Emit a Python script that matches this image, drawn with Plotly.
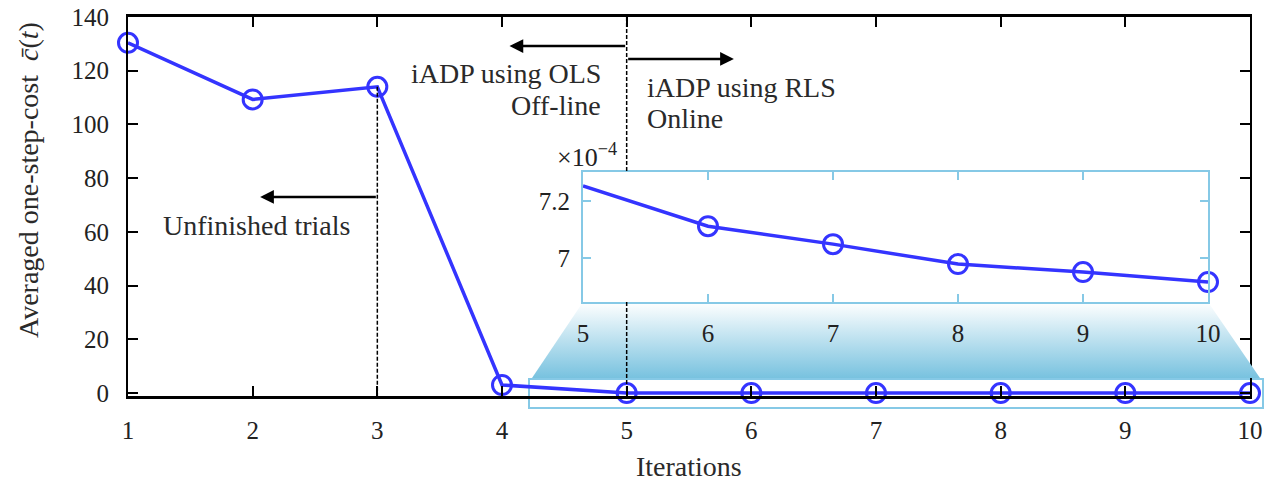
import plotly.graph_objects as go

# ---------------- data ----------------
iterations = [1, 2, 3, 4, 5, 6, 7, 8, 9, 10]
avg_cost = [130.4, 109.3, 114.0, 3.0, 7.253e-4, 7.112e-4, 7.049e-4, 6.979e-4, 6.951e-4, 6.916e-4]
x_ticks = [1, 2, 3, 4, 5, 6, 7, 8, 9, 10]
y_ticks = [0, 20, 40, 60, 80, 100, 120, 140]
inset_iters = iterations[4:]
inset_cost = avg_cost[4:]
inset_xticks = [5, 6, 7, 8, 9, 10]
inset_yticks = [7.0e-4, 7.2e-4]
inset_yticklabels = ["7", "7.2"]

# ---------------- layout geometry (pixels) ----------------
W, H = 1271, 482
PL, PR, PT, PB = 128, 1250, 17, 396          # main plot area
IL, IR, IT, IB = 583, 1208, 172, 302         # inset area
ZL, ZR, ZT, ZB = 529, 1263, 379, 408         # zoom rectangle

def px(x):
    return x / W

def py(y):
    return 1 - y / H

FONT = "Liberation Serif, Times New Roman, serif"
BLUE = "#3434ff"
SKY = "#86c9e6"
TXT = "#222222"

main_yrange = [-1.1, 140]
main_xrange = [1, 10]
inset_yrange = [6.846e-4, 7.302e-4]
inset_xrange = [5, 10]

main_xdom = [px(PL), px(PR)]
main_ydom = [py(PB), py(PT)]
inset_xdom = [px(IL), px(IR)]
inset_ydom = [py(IB), py(IT)]


def main_y_from_pixel(yp):
    p = py(yp)
    return main_yrange[0] + (p - main_ydom[0]) / (main_ydom[1] - main_ydom[0]) * (main_yrange[1] - main_yrange[0])


fig = go.Figure()

# main curve
fig.add_trace(go.Scatter(
    x=iterations, y=avg_cost, mode="lines+markers",
    line=dict(color=BLUE, width=3.5),
    marker=dict(symbol="circle-open", size=19, color=BLUE, line=dict(width=3, color=BLUE)),
    xaxis="x", yaxis="y", showlegend=False, cliponaxis=False,
))

# gradient trapezoid (overlay axes in pixel coordinates, y up)
tx = [IL, IR, ZR - 3, ZL + 3, IL]
ty = [H - IB, H - IB, H - (ZT - 1), H - (ZT - 1), H - IB]
fig.add_trace(go.Scatter(
    x=tx, y=ty, mode="lines", fill="toself",
    line=dict(width=0, color="rgba(0,0,0,0)"),
    fillgradient=dict(type="vertical",
                      colorscale=[[0, "#78c2df"], [1, "#ffffff"]]),
    xaxis="x2", yaxis="y2", showlegend=False, hoverinfo="skip",
))

# inset curve
fig.add_trace(go.Scatter(
    x=inset_iters, y=inset_cost, mode="lines",
    line=dict(color=BLUE, width=3.5),
    xaxis="x3", yaxis="y3", showlegend=False,
))
fig.add_trace(go.Scatter(
    x=inset_iters[1:], y=inset_cost[1:], mode="markers",
    marker=dict(symbol="circle-open", size=19, color=BLUE, line=dict(width=3, color=BLUE)),
    xaxis="x3", yaxis="y3", showlegend=False, cliponaxis=False,
))

axis_common = dict(showgrid=False, zeroline=False, showline=True, mirror="ticks", automargin=False,
                   ticks="inside", tickfont=dict(family=FONT, size=25, color=TXT))

fig.update_layout(
    width=W, height=H,
    margin=dict(l=0, r=0, t=0, b=0, pad=0),
    paper_bgcolor="white", plot_bgcolor="rgba(0,0,0,0)",
    font=dict(family=FONT, color=TXT),
    xaxis=dict(domain=main_xdom, range=main_xrange, tickvals=x_ticks, anchor="y",
               linecolor="black", linewidth=2.5, tickcolor="black", tickwidth=1.5, ticklen=10,
               ticklabelstandoff=10, **axis_common),
    yaxis=dict(domain=main_ydom, range=main_yrange, tickvals=y_ticks, anchor="x",
               linecolor="black", linewidth=2, tickcolor="black", tickwidth=1.5, ticklen=10,
               ticklabelstandoff=12, **axis_common),
    xaxis2=dict(domain=[0, 1], range=[0, W], visible=False, fixedrange=True, anchor="y2",
                automargin=False),
    yaxis2=dict(domain=[0, 1], range=[0, H], visible=False, fixedrange=True, anchor="x2",
                automargin=False),
    xaxis3=dict(domain=inset_xdom, range=inset_xrange, tickvals=inset_xticks, anchor="y3",
                linecolor=SKY, linewidth=2, tickcolor=SKY, tickwidth=1.5, ticklen=8,
                ticklabelstandoff=8, **axis_common),
    yaxis3=dict(domain=inset_ydom, range=inset_yrange, tickvals=inset_yticks,
                ticktext=inset_yticklabels, anchor="x3",
                linecolor=SKY, linewidth=2, tickcolor=SKY, tickwidth=1.5, ticklen=8,
                ticklabelstandoff=6, **axis_common),
)

# zoom rectangle
fig.add_shape(type="rect", xref="paper", yref="paper",
              x0=px(ZL), x1=px(ZR), y0=py(ZB), y1=py(ZT),
              line=dict(color=SKY, width=2), fillcolor="rgba(0,0,0,0)", layer="below")

dash = "4px,2px"
# vertical line at iteration 3
fig.add_shape(type="line", xref="x", yref="y", x0=iterations[2], x1=iterations[2],
              y0=avg_cost[2], y1=main_yrange[0], line=dict(color="black", width=1.5, dash=dash),
              layer="above")
# vertical line at iteration 5 (interrupted by the inset)
fig.add_shape(type="line", xref="x", yref="y", x0=iterations[4], x1=iterations[4],
              y0=main_yrange[1], y1=main_y_from_pixel(IT), line=dict(color="black", width=1.5, dash=dash),
              layer="above")
fig.add_shape(type="line", xref="x", yref="y", x0=iterations[4], x1=iterations[4],
              y0=main_y_from_pixel(IB), y1=0, line=dict(color="black", width=1.5, dash=dash),
              layer="above")

ann_font = dict(family=FONT, size=28, color="#2a2a2a")

# arrows
arrow_kw = dict(showarrow=True, arrowhead=2, arrowsize=1.1, arrowwidth=2.5, arrowcolor="black",
                xref="x", yref="y", axref="x", ayref="y", text="")
fig.add_annotation(x=2.06, y=73.0, ax=3, ay=73.0, **arrow_kw)
fig.add_annotation(x=4.06, y=129.2, ax=5, ay=129.2, **arrow_kw)
fig.add_annotation(x=5.86, y=124.4, ax=5, ay=124.4, **arrow_kw)

# texts
fig.add_annotation(x=2.03, y=62.2, xref="x", yref="y", text="Unfinished trials",
                   showarrow=False, font=ann_font, xanchor="center", yanchor="middle")
fig.add_annotation(x=4.81, y=118.8, xref="x", yref="y", text="iADP using OLS",
                   showarrow=False, font=ann_font, xanchor="right", yanchor="middle")
fig.add_annotation(x=4.81, y=106.9, xref="x", yref="y", text="Off-line",
                   showarrow=False, font=ann_font, xanchor="right", yanchor="middle")
fig.add_annotation(x=5.15, y=113.9, xref="x", yref="y", text="iADP using RLS",
                   showarrow=False, font=ann_font, xanchor="left", yanchor="middle")
fig.add_annotation(x=5.15, y=102.4, xref="x", yref="y", text="Online",
                   showarrow=False, font=ann_font, xanchor="left", yanchor="middle")

# inset exponent label
fig.add_annotation(x=px(555), y=py(156), xref="paper", yref="paper",
                   text="×10<sup>−4</sup>", showarrow=False,
                   font=dict(family=FONT, size=26, color=TXT), xanchor="left", yanchor="middle")

# axis titles
fig.add_annotation(x=px(689), y=py(466), xref="paper", yref="paper", text="Iterations",
                   showarrow=False, font=dict(family=FONT, size=28, color="#2a2a2a"),
                   xanchor="center", yanchor="middle")
fig.add_annotation(x=px(28), y=py(180), xref="paper", yref="paper",
                   text="Averaged one-step-cost  <i>c̄</i>(<i>t</i>)",
                   showarrow=False, textangle=-90,
                   font=dict(family=FONT, size=28, color="#2a2a2a"),
                   xanchor="center", yanchor="middle")

fig.write_html("out.html", config={"displayModeBar": False},
               post_script="document.body.style.margin='0';")
